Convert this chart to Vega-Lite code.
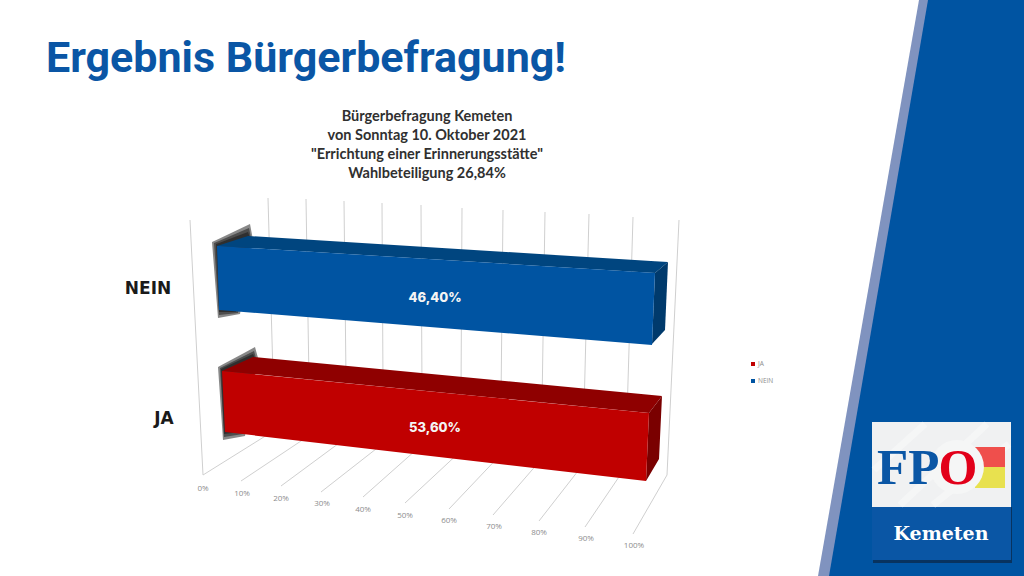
{
"$schema":"https://vega.github.io/schema/vega-lite/v6.json",
"width":1024,"height":576,"padding":0,"autosize":"none","background":"white",
"config":{"view":{"stroke":null}},
"encoding":{
 "x":{"field":"x","type":"quantitative","scale":{"domain":[0,1024],"nice":false,"zero":false},"axis":null},
 "y":{"field":"y","type":"quantitative","scale":{"domain":[0,576],"reverse":true,"nice":false,"zero":false},"axis":null}
},
"datasets":{
"flaechen":[
{"teil":"Band","x":818,"y":576,"y2":576},{"teil":"Band","x":919,"y":0,"y2":576},{"teil":"Band","x":1024,"y":0,"y2":576},
{"teil":"Panel","x":829,"y":576,"y2":576},{"teil":"Panel","x":928,"y":0,"y2":576},{"teil":"Panel","x":1024,"y":0,"y2":576}
],
"schatten":[
{"teil":"n1","x":212,"y":242,"y2":242},{"teil":"n1","x":218,"y":239.2,"y2":318},{"teil":"n1","x":240,"y":228.7,"y2":314},{"teil":"n1","x":250,"y":224,"y2":257},{"teil":"n1","x":253,"y":240,"y2":240},
{"teil":"n2","x":214,"y":243,"y2":243},{"teil":"n2","x":219,"y":240.9,"y2":315},{"teil":"n2","x":238,"y":232.7,"y2":313},{"teil":"n2","x":249,"y":228,"y2":250},{"teil":"n2","x":251,"y":238,"y2":238},
{"teil":"n3","x":216,"y":244,"y2":244},{"teil":"n3","x":219,"y":243,"y2":312},{"teil":"n3","x":236,"y":236.5,"y2":312},{"teil":"n3","x":248,"y":232,"y2":245},{"teil":"n3","x":250,"y":238,"y2":238},
{"teil":"j1","x":218,"y":367,"y2":367},{"teil":"j1","x":223,"y":364.3,"y2":440},{"teil":"j1","x":245,"y":352.4,"y2":436},{"teil":"j1","x":255,"y":347,"y2":376},{"teil":"j1","x":258,"y":358,"y2":358},
{"teil":"j2","x":220,"y":368,"y2":368},{"teil":"j2","x":224,"y":366,"y2":437},{"teil":"j2","x":243,"y":356.5,"y2":434},{"teil":"j2","x":254,"y":351,"y2":369.7},{"teil":"j2","x":256,"y":358,"y2":358},
{"teil":"j3","x":221,"y":369,"y2":369},{"teil":"j3","x":224,"y":367.6,"y2":434},{"teil":"j3","x":241,"y":359.6,"y2":432},{"teil":"j3","x":253,"y":354,"y2":368.6},{"teil":"j3","x":255,"y":358,"y2":358}
],
"balken":[
{"teil":"NEIN oben","x":217,"y":246,"y2":246},{"teil":"NEIN oben","x":248,"y":236,"y2":247.9},{"teil":"NEIN oben","x":655,"y":261.2,"y2":273},{"teil":"NEIN oben","x":668,"y":262,"y2":262},
{"teil":"NEIN Seite","x":652,"y":344,"y2":344},{"teil":"NEIN Seite","x":655,"y":273,"y2":340.8},{"teil":"NEIN Seite","x":665,"y":264.5,"y2":330},{"teil":"NEIN Seite","x":668,"y":262,"y2":262},
{"teil":"NEIN vorn","x":217,"y":246,"y2":246},{"teil":"NEIN vorn","x":219,"y":246.1,"y2":310},{"teil":"NEIN vorn","x":652,"y":272.8,"y2":345},{"teil":"NEIN vorn","x":655,"y":273,"y2":273},
{"teil":"JA oben","x":222,"y":371,"y2":371},{"teil":"JA oben","x":253,"y":357,"y2":374},{"teil":"JA oben","x":649,"y":394.8,"y2":413},{"teil":"JA oben","x":662,"y":396,"y2":396},
{"teil":"JA Seite","x":646,"y":481,"y2":481},{"teil":"JA Seite","x":649,"y":413,"y2":475.9},{"teil":"JA Seite","x":659,"y":399.9,"y2":459},{"teil":"JA Seite","x":662,"y":396,"y2":396},
{"teil":"JA vorn","x":222,"y":371,"y2":371},{"teil":"JA vorn","x":225,"y":371.3,"y2":432},{"teil":"JA vorn","x":646,"y":412.7,"y2":481},{"teil":"JA vorn","x":649,"y":413,"y2":413}
],
"gitter":[
{"x":190,"y":220,"x2":203,"y2":475},{"x":679,"y":220,"x2":667,"y2":475},
{"x":268,"y":198,"x2":273,"y2":375},{"x":306,"y":199,"x2":309,"y2":380},{"x":344,"y":201,"x2":346,"y2":378},{"x":382,"y":203,"x2":383,"y2":385},{"x":421,"y":205,"x2":422,"y2":390},{"x":462,"y":208,"x2":461,"y2":395},{"x":503,"y":210,"x2":501,"y2":400},{"x":545,"y":212,"x2":542,"y2":405},{"x":589,"y":214,"x2":584,"y2":410},{"x":633,"y":217,"x2":627,"y2":415},
{"x":203,"y":475,"x2":275,"y2":430},{"x":241,"y":481,"x2":310,"y2":435},{"x":281,"y":486,"x2":350,"y2":435},{"x":321,"y":492,"x2":390,"y2":438},{"x":363,"y":497,"x2":425,"y2":442},{"x":405,"y":503,"x2":463,"y2":449},{"x":449,"y":509,"x2":505,"y2":450},{"x":493,"y":515,"x2":545,"y2":455},{"x":539,"y":521,"x2":585,"y2":462},{"x":585,"y":527,"x2":625,"y2":468},{"x":633,"y":534,"x2":667,"y2":475}
],
"ticks":[
{"x":203,"y":489,"text":"0%"},{"x":242,"y":494,"text":"10%"},{"x":281,"y":499,"text":"20%"},{"x":322,"y":504,"text":"30%"},{"x":363,"y":510,"text":"40%"},{"x":405,"y":516,"text":"50%"},{"x":449,"y":521,"text":"60%"},{"x":494,"y":527,"text":"70%"},{"x":539,"y":533,"text":"80%"},{"x":586,"y":539,"text":"90%"},{"x":634,"y":546,"text":"100%"}
],
"kasten":[
{"teil":"Logo Schatten","x":873,"x2":1012,"y":507,"y2":563},
{"teil":"Logo Fuss","x":872,"x2":1011,"y":507,"y2":560},
{"teil":"Logo Feld","x":872,"x2":1011,"y":422,"y2":507}
],
"flagge":[
{"teil":"Flagge rot","x":975,"x2":1005,"y":447,"y2":467},
{"teil":"Flagge gelb","x":975,"x2":1005,"y":467,"y2":488}
]
},
"layer":[
{"data":{"name":"flaechen"},"mark":{"type":"area","interpolate":"linear"},"encoding":{"y2":{"field":"y2"},"color":{"field":"teil","type":"nominal","legend":null,"scale":{"domain":["Band","Panel","NEIN oben","NEIN Seite","NEIN vorn","JA oben","JA Seite","JA vorn","Logo Schatten","Logo Fuss","Logo Feld","Flagge rot","Flagge gelb","JA","NEIN"],"range":["#8093bf","#0054a2","#00457f","#003a6c","#0054a2","#8f0000","#7a0000","#c00000","#08335f","#0a56a5","#f0f1f2","#ef4f4c","#e8e14f","#c00000","#0054a2"]}}}},
{"data":{"name":"gitter"},"mark":{"type":"rule","color":"#cfcfcf","strokeWidth":1},"encoding":{"x2":{"field":"x2"},"y2":{"field":"y2"}}},
{"data":{"name":"schatten"},"mark":{"type":"area","color":"#111111","opacity":0.5,"interpolate":"linear"},"encoding":{"y2":{"field":"y2"},"detail":{"field":"teil"}}},
{"data":{"name":"balken"},"mark":{"type":"area","interpolate":"linear"},"encoding":{"y2":{"field":"y2"},"color":{"field":"teil","type":"nominal","legend":null}}},
{"data":{"name":"ticks"},"mark":{"type":"text","font":"Open Sans","fontSize":8,"color":"#8c8c8c","align":"center","baseline":"middle"},"encoding":{"text":{"field":"text"}}},
{"data":{"values":[{"x":148,"y":289,"text":"NEIN"},{"x":164,"y":419,"text":"JA"}]},"mark":{"type":"text","font":"DejaVu Sans","fontWeight":"bold","fontSize":17,"color":"#1a1a1a","align":"center","baseline":"middle"},"encoding":{"text":{"field":"text"}}},
{"data":{"values":[{"antwort":"NEIN","anteil":46.4,"x":435,"y":298,"text":"46,40%"},{"antwort":"JA","anteil":53.6,"x":435,"y":428,"text":"53,60%"}]},"mark":{"type":"text","font":"Inter","fontWeight":800,"fontSize":13,"color":"#f4f4f4","align":"center","baseline":"middle"},"encoding":{"text":{"field":"text"}}},
{"data":{"values":[{"x":46,"y":72,"text":"Ergebnis Bürgerbefragung!"}]},"mark":{"type":"text","font":"Roboto","fontWeight":"bold","fontSize":43,"color":"#0a56a5","align":"left","baseline":"alphabetic"},"encoding":{"text":{"field":"text"}}},
{"data":{"values":[{"x":427,"y":117,"text":"Bürgerbefragung Kemeten"},{"x":427,"y":136,"text":"von Sonntag 10. Oktober 2021"},{"x":427,"y":155,"text":"\"Errichtung einer Erinnerungsstätte\""},{"x":427,"y":174,"text":"Wahlbeteiligung 26,84%"}]},"mark":{"type":"text","font":"Lato","fontWeight":"bold","fontSize":14.5,"color":"#303030","align":"center","baseline":"middle"},"encoding":{"text":{"field":"text"}}},
{"data":{"values":[{"x":753,"y":364,"teil":"JA"},{"x":753,"y":381,"teil":"NEIN"}]},"mark":{"type":"point","shape":"square","filled":true,"size":16,"opacity":1},"encoding":{"color":{"field":"teil","type":"nominal","legend":null}}},
{"data":{"values":[{"x":758,"y":364,"text":"JA"},{"x":758,"y":381,"text":"NEIN"}]},"mark":{"type":"text","font":"Open Sans","fontSize":6.5,"color":"#8c8c8c","align":"left","baseline":"middle"},"encoding":{"text":{"field":"text"}}},
{"data":{"name":"kasten"},"mark":{"type":"rect"},"encoding":{"x2":{"field":"x2"},"y2":{"field":"y2"},"color":{"field":"teil","type":"nominal","legend":null}}},
{"data":{"values":[{"x":900,"y":505,"x2":987,"y2":424},{"x":933,"y":505,"x2":1009,"y2":444},{"x":874,"y":470,"x2":925,"y2":424}]},"mark":{"type":"rule","color":"white","strokeWidth":7,"opacity":0.35},"encoding":{"x2":{"field":"x2"},"y2":{"field":"y2"}}},
{"data":{"name":"flagge"},"mark":{"type":"rect"},"encoding":{"x2":{"field":"x2"},"y2":{"field":"y2"},"color":{"field":"teil","type":"nominal","legend":null}}},
{"data":{"values":[{"x":957,"y":467}]},"mark":{"type":"point","shape":"circle","filled":true,"size":2900,"color":"#f5f6f6","opacity":1}},
{"data":{"values":[{"x":877,"y":484,"text":"FP"}]},"mark":{"type":"text","font":"Liberation Serif","fontWeight":"bold","fontSize":51,"color":"#0a56a5","align":"left","baseline":"alphabetic"},"encoding":{"text":{"field":"text"}}},
{"data":{"values":[{"x":958,"y":484,"text":"O"}]},"mark":{"type":"text","font":"Liberation Serif","fontWeight":"bold","fontSize":50,"color":"#e2001a","align":"center","baseline":"alphabetic"},"encoding":{"text":{"field":"text"}}},
{"data":{"values":[{"x":941,"y":534,"text":"Kemeten"}]},"mark":{"type":"text","font":"DejaVu Serif","fontWeight":"bold","fontSize":19,"color":"white","align":"center","baseline":"middle"},"encoding":{"text":{"field":"text"}}}
]
}
